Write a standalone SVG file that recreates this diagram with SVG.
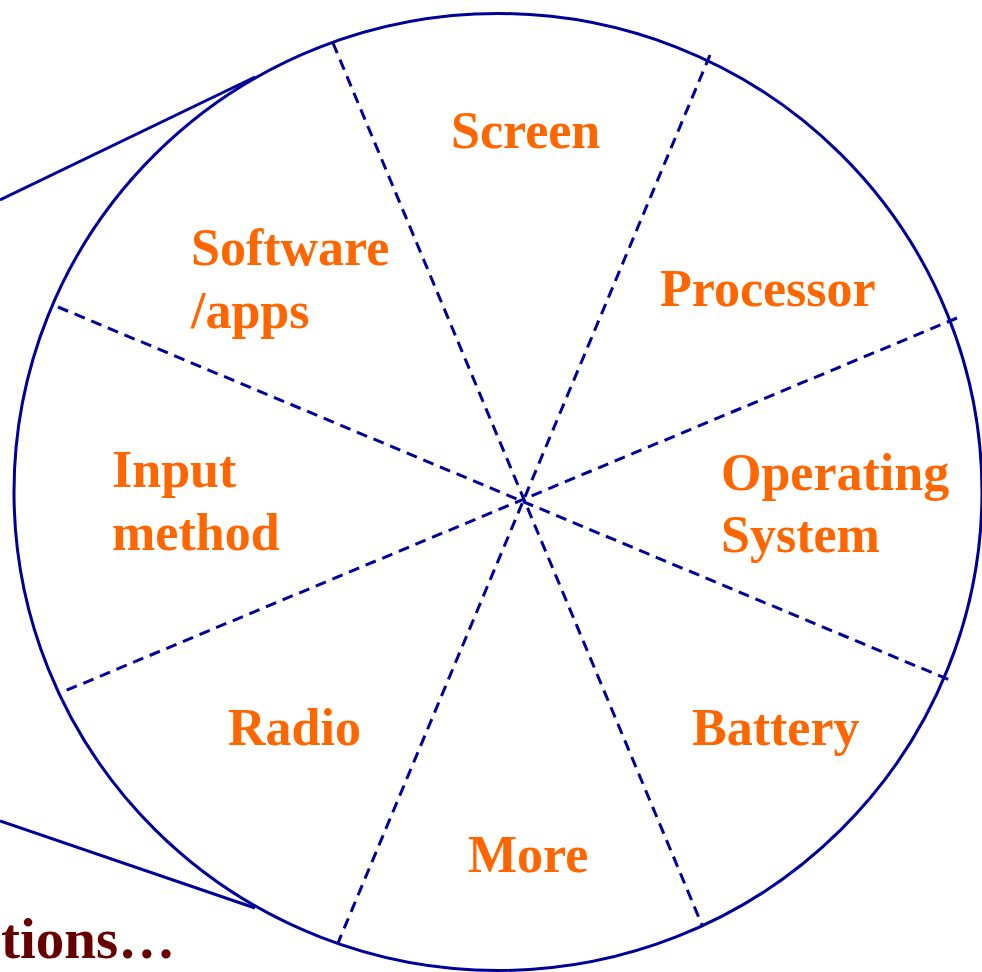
<svg xmlns="http://www.w3.org/2000/svg" width="982" height="972" viewBox="0 0 982 972">
<style>
.lbl{font-family:"Liberation Serif","Times New Roman",serif;font-weight:bold;font-size:52px;fill:#FF6600}
.edge{stroke:#000099;stroke-width:3;fill:none}
.div{stroke:#000099;stroke-width:3;fill:none;stroke-dasharray:11 7}
</style>
<rect width="982" height="972" fill="#ffffff"/>
<g id="connectors">
<line class="edge" x1="0" y1="200" x2="255" y2="77"/>
<line class="edge" x1="0" y1="821" x2="255" y2="908"/>
</g>
<g id="wheel">
<ellipse class="edge" cx="498" cy="492" rx="484" ry="478.5"/>
<line class="div" x1="333" y1="43" x2="702" y2="925"/>
<line class="div" x1="710" y1="55" x2="338" y2="943"/>
<line class="div" x1="58" y1="307" x2="952" y2="681"/>
<line class="div" x1="957" y1="318" x2="60" y2="693"/>
</g>
<g id="screen"><text class="lbl" x="451" y="148">Screen</text></g>
<g id="processor"><text class="lbl" x="660" y="306">Processor</text></g>
<g id="os"><text class="lbl" x="721" y="490">Operating</text><text class="lbl" x="721" y="552">System</text></g>
<g id="battery"><text class="lbl" x="692" y="745">Battery</text></g>
<g id="more"><text class="lbl" x="468" y="872">More</text></g>
<g id="radio"><text class="lbl" x="228" y="745">Radio</text></g>
<g id="input"><text class="lbl" x="112" y="487">Input</text><text class="lbl" x="112" y="550">method</text></g>
<g id="software"><text class="lbl" x="191" y="265">Software</text><text class="lbl" x="191" y="328">/apps</text></g>
<g id="caption"><text x="1" y="958" style="font-family:'Liberation Serif','Times New Roman',serif;font-weight:bold;font-size:57px;fill:#660000">tions…</text></g>
</svg>
